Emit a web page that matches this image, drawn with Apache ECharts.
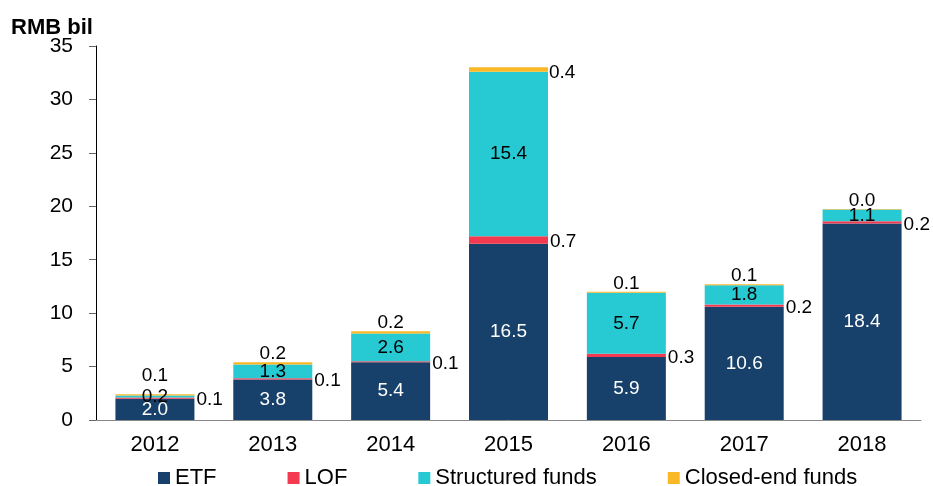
<!DOCTYPE html>
<html style="height: 100%">
<head>
<meta charset="utf-8">
<title>RMB bil</title>
<script src="https://cdn.jsdelivr.net/npm/echarts@6/dist/echarts.min.js"></script>
</head>
<body style="margin:0;height:100%;background:#fff">
<div id="main" style="width:933px;height:486px"></div>
<script>
var years = ['2012', '2013', '2014', '2015', '2016', '2017', '2018'];
var etf = [2.0, 3.8, 5.4, 16.5, 5.9, 10.6, 18.4];
var lof = [0.1, 0.1, 0.1, 0.7, 0.3, 0.2, 0.2];
var structured = [0.2, 1.3, 2.6, 15.4, 5.7, 1.8, 1.1];
var closedEnd = [0.1, 0.2, 0.2, 0.4, 0.1, 0.1, 0.04];
var yTicks = [0, 5, 10, 15, 20, 25, 30, 35];

var font = '"Liberation Sans", Arial, sans-serif';
function fmt(p) { return p.value.toFixed(1); }

// closed-end labels sit on top, except 2015 (right of bar) and 2012 (lifted)
var closedData = closedEnd.map(function (v, i) {
    var item = { value: v };
    if (years[i] === '2015') item.label = { position: 'right', distance: 1, offset: [0, 3] };
    if (years[i] === '2012') item.label = { distance: 9 };
    return item;
});

var chart = echarts.init(document.getElementById('main'));
chart.setOption({
    animation: false,
    textStyle: { fontFamily: font },
    title: {
        text: 'RMB bil',
        left: 6,
        top: 12,
        textStyle: { fontSize: 22, fontWeight: 'bold', color: '#000', fontFamily: font }
    },
    grid: { left: 96, right: 12, top: 46, bottom: 66 },
    legend: {
        left: 153,
        top: 462,
        itemWidth: 12,
        itemHeight: 12,
        itemGap: 71,
        icon: 'rect',
        textStyle: { fontSize: 22, color: '#000', fontFamily: font },
        data: ['ETF', 'LOF', 'Structured funds', 'Closed-end funds']
    },
    xAxis: {
        type: 'category',
        data: years,
        axisLine: { lineStyle: { color: '#888' } },
        axisTick: { length: 6, lineStyle: { color: '#666' } },
        axisLabel: { fontSize: 22, color: '#000', margin: 14 }
    },
    yAxis: {
        type: 'value',
        min: yTicks[0],
        max: yTicks[yTicks.length - 1],
        interval: yTicks[1] - yTicks[0],
        axisLine: { show: true, lineStyle: { color: '#000' } },
        axisTick: { show: true, length: 7, lineStyle: { color: '#666' } },
        splitLine: { show: false },
        axisLabel: { fontSize: 21, color: '#000', margin: 23 }
    },
    series: [{
        name: 'ETF',
        type: 'bar',
        stack: 'all',
        barWidth: 79,
        data: etf,
        itemStyle: { color: '#17416A' },
        label: { show: true, position: 'inside', color: '#fff', fontSize: 19, formatter: fmt }
    }, {
        name: 'LOF',
        type: 'bar',
        stack: 'all',
        data: lof,
        itemStyle: { color: '#F43A50' },
        label: { show: true, position: 'right', distance: 2, offset: [0, 2], color: '#000', fontSize: 19, formatter: fmt }
    }, {
        name: 'Structured funds',
        type: 'bar',
        stack: 'all',
        data: structured,
        itemStyle: { color: '#27C9D3' },
        label: { show: true, position: 'inside', color: '#000', fontSize: 19, formatter: fmt }
    }, {
        name: 'Closed-end funds',
        type: 'bar',
        stack: 'all',
        data: closedData,
        itemStyle: { color: '#FBB826' },
        label: { show: true, position: 'top', distance: -1, color: '#000', fontSize: 19, formatter: fmt }
    }]
});
</script>
</body>
</html>
